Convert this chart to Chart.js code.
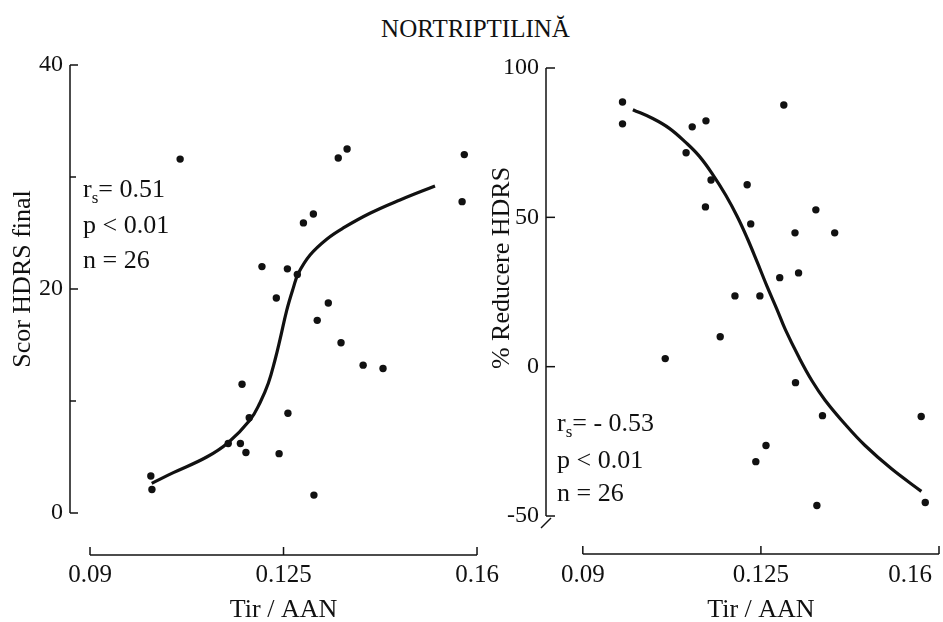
<!DOCTYPE html>
<html><head><meta charset="utf-8">
<script src="https://cdn.jsdelivr.net/npm/chart.js@4.4.1/dist/chart.umd.min.js"></script>
<style>
html,body{margin:0;padding:0;background:#fff;}
#wrap{position:relative;width:943px;height:622px;overflow:hidden;background:#fff;}
#title{position:absolute;left:4px;top:16px;width:943px;text-align:center;font-family:'Liberation Serif','Times New Roman',serif;font-size:25px;line-height:25px;color:#111;}
canvas{position:absolute;top:0;}
#cL{left:0;width:530px;height:622px;}
#cR{left:470px;width:473px;height:622px;}
</style></head><body>
<div id="wrap">
<div id="title">NORTRIPTILINĂ</div>
<canvas id="cL" width="530" height="622"></canvas>
<canvas id="cR" width="473" height="622"></canvas>
</div>
<script>
// ---------- data ----------
const xTickValues = [0.09, 0.125, 0.16];
const xTickLabels = ['0.09', '0.125', '0.16'];
const xTitle = 'Tir / AAN';

const leftYTicks = [0, 20, 40];
const leftYMinor = [10, 30];
const leftYTitle = 'Scor HDRS final';
const leftStats = ['= 0.51', 'p < 0.01', 'n = 26'];

const rightYTicks = [-50, 0, 50, 100];
const rightYMinor = [];
const rightYTitle = '% Reducere HDRS';
const rightStats = ['= - 0.53', 'p < 0.01', 'n = 26'];

const leftX = [0.1063,0.1349,0.1365,0.1577,0.1573,0.1304,0.1286,0.1211,0.1257,0.1275,0.1237,0.1331,0.1311,0.1354,0.1394,0.1430,0.1175,0.1258,0.1188,0.1150,0.1172,0.1182,0.1242,0.1010,0.1012,0.1305];
const leftY = [31.6,31.7,32.5,32.0,27.8,26.7,25.9,22.0,21.8,21.3,19.2,18.75,17.2,15.2,13.2,12.9,11.5,8.9,8.5,6.2,6.2,5.4,5.3,3.3,2.1,1.6];

const leftCurveX = [0.10116,0.10507,0.11111,0.11502,0.11894,0.12075,0.12225,0.12346,0.12437,0.12558,0.12677,0.12768,0.12980,0.13281,0.13582,0.14064,0.14607,0.15240];
const leftCurveY = [2.65,3.60,5.00,6.30,8.30,9.85,11.58,13.66,15.50,18.10,20.10,21.40,23.04,24.45,25.45,26.76,27.95,29.20];

const rightX = [0.0978,0.0978,0.1295,0.1115,0.1142,0.1103,0.1152,0.1223,0.1141,0.1358,0.1230,0.1317,0.1395,0.1324,0.1287,0.1199,0.1248,0.1170,0.1062,0.1318,0.1371,0.1565,0.1260,0.1240,0.1360,0.1573];
const rightY = [88.6,81.3,87.6,80.3,82.3,71.6,62.5,60.9,53.5,52.5,47.8,44.8,44.8,31.4,29.8,23.7,23.7,10.0,2.7,-5.35,-16.4,-16.7,-26.4,-31.8,-46.5,-45.5];

const rightCurveX = [0.09984,0.10375,0.10701,0.11028,0.11288,0.11548,0.11810,0.12037,0.12232,0.12428,0.12623,0.12813,0.12983,0.13243,0.13503,0.13765,0.14156,0.14547,0.15067,0.15654];
const rightCurveY = [86.05,83.10,79.80,75.00,70.50,64.50,57.40,50.20,43.00,35.00,26.80,19.30,12.30,3.30,-4.70,-11.30,-19.30,-26.40,-34.20,-41.75];

// ---------- rendering ----------
const INK = '#111';
const FONT = "'Liberation Serif','Times New Roman',serif";
Chart.defaults.font.family = FONT;
Chart.defaults.color = INK;

function pts(xs, ys){ return xs.map((v,i)=>({x:v, y:ys[i]})); }

function line(ctx,x1,y1,x2,y2){ ctx.beginPath(); ctx.moveTo(x1,y1); ctx.lineTo(x2,y2); ctx.stroke(); }

function makeChart(canvasId, o){
  const plugin = {
    id: 'decor',
    afterDraw(chart){
      const ctx = chart.ctx, a = chart.chartArea, xs = chart.scales.x, ys = chart.scales.y;
      ctx.save();
      ctx.strokeStyle = INK; ctx.fillStyle = INK; ctx.lineWidth = 1.5;
      // y axis line + inward ticks
      const ax = a.left;
      const yTop = ys.getPixelForValue(o.yTicks[o.yTicks.length-1]);
      const yBot = ys.getPixelForValue(o.yTicks[0]);
      line(ctx, ax, yTop, ax, yBot);
      o.yTicks.forEach(v=>{ const p = ys.getPixelForValue(v); line(ctx, ax, p, ax+o.tickLen, p); });
      o.yMinor.forEach(v=>{ const p = ys.getPixelForValue(v); line(ctx, ax, p, ax+6, p); });
      if (o.breakMark){ line(ctx, ax-5, yBot+12, ax+5, yBot+2); }
      // x axis line + upward ticks
      const xb = a.bottom;
      const x0 = xs.getPixelForValue(xTickValues[0]);
      const x1 = xs.getPixelForValue(xTickValues[xTickValues.length-1]);
      line(ctx, x0, xb, x1, xb);
      xTickValues.forEach(v=>{ const p = xs.getPixelForValue(v); line(ctx, p, xb, p, xb-8); });
      // x tick labels
      ctx.font = '25px ' + FONT; ctx.textBaseline = 'alphabetic';
      xTickValues.forEach((v,i)=>{
        let p = xs.getPixelForValue(v); ctx.textAlign = 'center';
        if (o.lastRight && i === xTickValues.length-1){ ctx.textAlign = 'right'; p -= 7; }
        ctx.fillText(xTickLabels[i], p, 582);
      });
      // x title
      ctx.font = '26px ' + FONT; ctx.textAlign = 'center';
      ctx.fillText(xTitle, (x0+x1)/2, 617);
      // y title
      ctx.save();
      ctx.translate(o.yTitleX, o.yTitleY); ctx.rotate(-Math.PI/2);
      ctx.textAlign = 'center'; ctx.textBaseline = 'middle';
      ctx.fillText(o.yTitle, 0, 0);
      ctx.restore();
      // stats
      ctx.textAlign = 'left'; ctx.textBaseline = 'alphabetic';
      ctx.font = '26px ' + FONT;
      const sx = o.statsX, b = o.statsBase;
      ctx.fillText('r', sx, b[0]);
      const rw = ctx.measureText('r').width;
      ctx.font = '17px ' + FONT;
      ctx.fillText('s', sx+rw, b[0]+6);
      const sw = ctx.measureText('s').width;
      ctx.font = '26px ' + FONT;
      ctx.fillText(o.stats[0], sx+rw+sw, b[0]);
      ctx.fillText(o.stats[1], sx, b[1]);
      ctx.fillText(o.stats[2], sx, b[2]);
      ctx.restore();
    }
  };
  return new Chart(document.getElementById(canvasId), {
    type: 'scatter',
    data: { datasets: [
      { data: pts(o.cx, o.cy), showLine: true, tension: 0.4, cubicInterpolationMode: 'default',
        borderColor: INK, borderWidth: 3.2, pointRadius: 0, fill: false, order: 2 },
      { data: pts(o.px, o.py), backgroundColor: INK, borderColor: INK,
        pointRadius: 3.7, pointBorderWidth: 0, order: 1 }
    ]},
    options: {
      responsive: false, animation: false, devicePixelRatio: 1,
      layout: { padding: { left: 0, top: o.padTop, right: o.padRight, bottom: 0 } },
      plugins: { legend: {display:false}, tooltip: {enabled:false}, title: {display:false} },
      scales: {
        x: { type: 'linear', min: o.xmin, max: o.xmax,
             grid: {display:false}, border: {display:false}, ticks: {display:false},
             afterFit(s){ s.height = o.xAxisH; } },
        y: { type: 'linear', min: o.ymin, max: o.ymax,
             grid: {display:false, drawTicks:false}, border: {display:false},
             ticks: { font: {size: 24, family: FONT}, color: INK, padding: o.yPad,
                      callback: (v)=> String(v) },
             afterBuildTicks(s){ s.ticks = o.yTicks.map(v=>({value:v})); },
             afterFit(s){ s.width = o.yAxisW; } }
      }
    },
    plugins: [plugin]
  });
}

makeChart('cL', {
  px: leftX, py: leftY, cx: leftCurveX, cy: leftCurveY,
  xmin: 0.08638, xmax: 0.16488, ymin: -3.75, ymax: 40,
  yTicks: leftYTicks, yMinor: leftYMinor, yTitle: leftYTitle, stats: leftStats,
  padTop: 65, padRight: 26, xAxisH: 67, yAxisW: 70, yPad: 7, tickLen: 8,
  yTitleX: 23, yTitleY: 279, statsX: 83, statsBase: [197, 233, 268],
  lastRight: false, breakMark: false
});

makeChart('cR', {
  px: rightX, py: rightY, cx: rightCurveX, cy: rightCurveY,
  xmin: 0.082765, xmax: 0.16, ymin: -62.72, ymax: 100,
  yTicks: rightYTicks, yMinor: rightYMinor, yTitle: rightYTitle, stats: rightStats,
  padTop: 68, padRight: 2, xAxisH: 68, yAxisW: 76, yPad: 7, tickLen: 9,
  yTitleX: 32, yTitleY: 268, statsX: 87, statsBase: [431, 468, 501],
  lastRight: true, breakMark: true
});
</script>
</body></html>
